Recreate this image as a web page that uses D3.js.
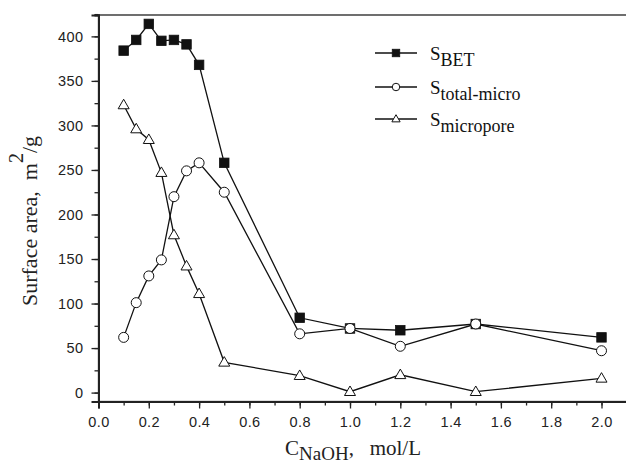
<!DOCTYPE html>
<html><head><meta charset="utf-8">
<script src="https://cdn.jsdelivr.net/npm/d3@7"></script>
<style>body{margin:0;background:#fff}svg{display:block}</style>
</head><body>
<svg id="chart" width="626" height="465"></svg>
<script>
const conc = [0.1, 0.15, 0.2, 0.25, 0.3, 0.35, 0.4, 0.5, 0.8, 1.0, 1.2, 1.5, 2.0];
const sBET = [384, 396, 414, 395, 396, 391, 368, 258, 84, 72, 70, 77, 62];
const sTotalMicro = [62, 101, 131, 149, 220, 249, 258, 225, 66, 72, 52, 77, 47];
const sMicropore = [323, 296, 284, 247, 177, 142, 111, 34, 19, 1, 20, 1, 16];
const xTicks = [0, 0.2, 0.4, 0.6, 0.8, 1.0, 1.2, 1.4, 1.6, 1.8, 2.0];
const yTicks = [0, 50, 100, 150, 200, 250, 300, 350, 400];
const seriesNames = ["BET", "total-micro", "micropore"];

const svg = d3.select("#chart");
const L = 98.5, R = 626, T = 15, B = 401.5;
const x = d3.scaleLinear().domain([0, 2.1]).range([L, L + (601 - 98) * 2.1 / 2.0]);
const y = d3.scaleLinear().domain([-10, 424]).range([B, T]);

// frame
svg.append("rect").attr("x", L).attr("y", T).attr("width", 700).attr("height", B - T)
  .attr("fill", "none").attr("stroke", "#222").attr("stroke-width", 1.3);

const tickFont = "'Liberation Sans', Arial, sans-serif";
// x axis
const xMinor = d3.range(0, 2.11, 0.1).map(v => +v.toFixed(2));
const xAx = svg.append("g").attr("transform", `translate(0,${B})`);
xAx.call(d3.axisBottom(x).tickValues(xMinor).tickSize(4).tickFormat(""));
xAx.append("g").call(d3.axisBottom(x).tickValues(xTicks).tickSize(7).tickPadding(8).tickFormat(d3.format(".1f")));
xAx.selectAll("path.domain").attr("stroke", "#222").attr("stroke-width", 2);
xAx.selectAll("line").attr("stroke", "#222").attr("stroke-width", 1.3);
xAx.selectAll("text").attr("font-family", tickFont).attr("font-size", 14.5).attr("fill", "#222").attr("letter-spacing", 0.4);

// y axis
const yMinor = d3.range(0, 426, 25);
const yAx = svg.append("g").attr("transform", `translate(${L},0)`);
yAx.call(d3.axisLeft(y).tickValues(yMinor).tickSize(4).tickFormat(""));
yAx.append("g").call(d3.axisLeft(y).tickValues(yTicks).tickSize(7).tickPadding(8));
yAx.selectAll("path.domain").attr("stroke", "#222").attr("stroke-width", 2);
yAx.selectAll("line").attr("stroke", "#222").attr("stroke-width", 1.3);
yAx.selectAll("text").attr("font-family", tickFont).attr("font-size", 14.5).attr("fill", "#222").attr("letter-spacing", 0.4);

const serif = "'Liberation Serif', 'Times New Roman', serif";
// y label
const yl = svg.append("text").attr("transform", "translate(37,221) rotate(-90)")
  .attr("text-anchor", "middle").attr("font-family", serif).attr("font-size", 22).attr("fill", "#222");
yl.append("tspan").text("Surface area,\u00a0\u00a0m");
yl.append("tspan").attr("dy", -14).attr("font-size", 20).text("2");
yl.append("tspan").attr("dy", 14).text("/g");

// x label
const xl = svg.append("text").attr("x", 285).attr("y", 455)
  .attr("font-family", serif).attr("font-size", 21).attr("fill", "#222");
xl.append("tspan").text("C");
xl.append("tspan").attr("dy", 5).attr("font-size", 19).text("NaOH");
xl.append("tspan").attr("dy", -5).text(",\u00a0\u00a0\u00a0mol/L");

const data = [sBET, sTotalMicro, sMicropore];
const line = d3.line().x((d, i) => x(conc[i])).y(d => y(d));

function marker(g, k, size) {
  if (k === 0) {
    g.append("rect").attr("x", -size / 2).attr("y", -size / 2).attr("width", size).attr("height", size)
      .attr("fill", "#111").attr("stroke", "#111").attr("stroke-width", 0.8);
  } else if (k === 1) {
    g.append("circle").attr("r", size / 2).attr("fill", "#fff").attr("stroke", "#111").attr("stroke-width", 1);
  } else {
    const s = size * 1.1;
    const h = s * 0.866;
    g.append("path").attr("d", `M0,${-h * 0.6}L${s / 2},${h * 0.4}L${-s / 2},${h * 0.4}Z`)
      .attr("fill", "#fff").attr("stroke", "#111").attr("stroke-width", 1);
  }
}

data.forEach((vals, k) => {
  svg.append("path").datum(vals).attr("d", line).attr("fill", "none")
    .attr("stroke", "#111").attr("stroke-width", 1.3);
});
data.forEach((vals, k) => {
  vals.forEach((v, i) => {
    const g = svg.append("g").attr("transform", `translate(${x(conc[i])},${y(v)})`);
    marker(g, k, k === 0 ? 9.5 : 10);
  });
});

// legend
const legY = [53, 87, 119];
seriesNames.forEach((name, k) => {
  const g = svg.append("g").attr("transform", `translate(0,${legY[k]})`);
  g.append("line").attr("x1", 375).attr("x2", 417).attr("y1", 0).attr("y2", 0)
    .attr("stroke", "#111").attr("stroke-width", 1.3);
  const m = g.append("g").attr("transform", "translate(396,0)");
  marker(m, k, 7.5);
  const t = g.append("text").attr("x", 430).attr("y", 7).attr("font-family", serif)
    .attr("font-size", 19).attr("fill", "#111");
  t.append("tspan").text("S");
  t.append("tspan").attr("dy", 6).attr("font-size", 18).text(name);
});
</script>
</body></html>
